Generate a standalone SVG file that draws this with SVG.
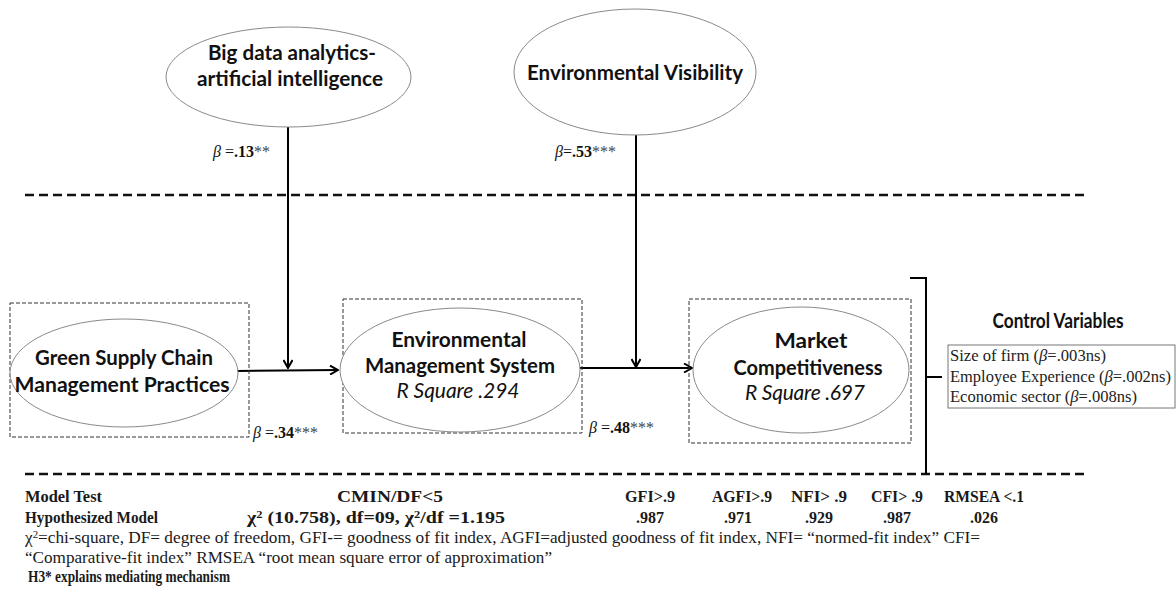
<svg xmlns="http://www.w3.org/2000/svg" width="1176" height="590" viewBox="0 0 1176 590">
<style>
.ell{fill:#fff;stroke:#8a8a8a;stroke-width:1}
.box{fill:none;stroke:#333;stroke-width:1;stroke-dasharray:4 2}
.sep{stroke:#111;stroke-width:2.5;stroke-dasharray:9 5;fill:none}
.conn{stroke:#000;stroke-width:2;fill:none}
.lbl{font-family:Lato,"Open Sans",sans-serif;font-weight:bold;font-size:21px;fill:#111;text-anchor:middle}
.rsq{font-family:Lato,"Open Sans",sans-serif;font-style:italic;font-size:21px;fill:#111;text-anchor:middle}
.beta{font-family:"Liberation Serif",serif;font-size:16px;fill:#111}
.tbl{font-family:"Liberation Serif",serif;font-size:16px;fill:#1a1a1a}
.ctl{font-family:"Liberation Serif",serif;font-size:16px;fill:#222}
.b{font-weight:bold}
.i{font-style:italic}
.st{fill:#444;font-weight:normal}
</style>
<defs>
<marker id="arr" viewBox="0 0 10 10" refX="9" refY="5" markerWidth="10" markerHeight="10" orient="auto" markerUnits="userSpaceOnUse">
<path d="M1,0.5 L9,5 L1,9.5" fill="none" stroke="#000" stroke-width="2"/>
</marker>
</defs>
<rect width="1176" height="590" fill="#fff"/>

<g id="separators">
<line class="sep" x1="25" y1="195" x2="1087" y2="195"/>
<line class="sep" x1="25" y1="474" x2="1087" y2="474"/>
</g>

<g id="connectors">
<line class="conn" x1="288" y1="127" x2="288" y2="368" marker-end="url(#arr)"/>
<line class="conn" x1="636" y1="135" x2="636" y2="367" marker-end="url(#arr)"/>
<line class="conn" x1="237" y1="371" x2="338" y2="370" marker-end="url(#arr)"/>
<line class="conn" x1="580" y1="368" x2="692" y2="368" marker-end="url(#arr)"/>
<path class="conn" d="M910,278 H926 V474 M926,377 H942"/>
</g>

<g id="node-bigdata">
<ellipse class="ell" cx="288.5" cy="77" rx="122.5" ry="50"/>
<text class="lbl" x="292" y="60" textLength="168" lengthAdjust="spacingAndGlyphs">Big data analytics-</text>
<text class="lbl" x="290" y="86" textLength="186" lengthAdjust="spacingAndGlyphs">artificial intelligence</text>
</g>

<g id="node-envvis">
<ellipse class="ell" cx="635" cy="72" rx="121" ry="63"/>
<text class="lbl" x="635" y="80" textLength="216" lengthAdjust="spacingAndGlyphs">Environmental Visibility</text>
</g>

<g id="node-gscm">
<rect class="box" x="10" y="303" width="239" height="134"/>
<ellipse class="ell" cx="124" cy="373" rx="114" ry="54"/>
<text class="lbl" x="124" y="365" textLength="178" lengthAdjust="spacingAndGlyphs">Green Supply Chain</text>
<text class="lbl" x="122" y="392" textLength="215" lengthAdjust="spacingAndGlyphs">Management Practices</text>
</g>

<g id="node-ems">
<rect class="box" x="343" y="299" width="239" height="134"/>
<ellipse class="ell" cx="460" cy="370" rx="120" ry="62"/>
<text class="lbl" x="459" y="347" textLength="135" lengthAdjust="spacingAndGlyphs">Environmental</text>
<text class="lbl" x="460" y="373" textLength="190" lengthAdjust="spacingAndGlyphs">Management System</text>
<text class="rsq" x="458" y="398" textLength="123">R Square .294</text>
</g>

<g id="node-mc">
<rect class="box" x="689" y="299" width="222" height="144"/>
<ellipse class="ell" cx="801" cy="370" rx="108" ry="63"/>
<text class="lbl" x="811" y="348" textLength="73" lengthAdjust="spacingAndGlyphs">Market</text>
<text class="lbl" x="808" y="375" textLength="149" lengthAdjust="spacingAndGlyphs">Competitiveness</text>
<text class="rsq" x="805" y="400" textLength="120">R Square .697</text>
</g>

<g id="node-controls">
<text class="lbl" x="1058" y="328" font-size="18" textLength="131" lengthAdjust="spacingAndGlyphs">Control Variables</text>
<rect x="948" y="345" width="227" height="63" fill="#fff" stroke="#777" stroke-width="1"/>
<text class="ctl" x="950" y="361" textLength="156" lengthAdjust="spacingAndGlyphs">Size of  firm (<tspan class="i">β</tspan>=.003ns)</text>
<text class="ctl" x="950" y="382" textLength="221" lengthAdjust="spacingAndGlyphs">Employee Experience (<tspan class="i">β</tspan>=.002ns)</text>
<text class="ctl" x="950" y="402" textLength="187" lengthAdjust="spacingAndGlyphs">Economic sector (<tspan class="i">β</tspan>=.008ns)</text>
</g>

<g id="beta-labels">
<text class="beta" x="213" y="157"><tspan class="i">β</tspan> =<tspan class="b">.13</tspan><tspan class="st">**</tspan></text>
<text class="beta" x="555" y="157"><tspan class="i">β</tspan>=<tspan class="b">.53</tspan><tspan class="st">***</tspan></text>
<text class="beta" x="253" y="438"><tspan class="i">β</tspan> =<tspan class="b">.34</tspan><tspan class="st">***</tspan></text>
<text class="beta" x="589" y="433"><tspan class="i">β</tspan> =<tspan class="b">.48</tspan><tspan class="st">***</tspan></text>
</g>

<g id="fit-table">
<text class="tbl b" x="25" y="502" textLength="77" lengthAdjust="spacingAndGlyphs">Model Test</text>
<text class="tbl b" x="337" y="502" textLength="106" lengthAdjust="spacingAndGlyphs">CMIN/DF&lt;5</text>
<text class="tbl b" x="625" y="502" textLength="50" lengthAdjust="spacingAndGlyphs">GFI&gt;.9</text>
<text class="tbl b" x="712" y="502" textLength="60" lengthAdjust="spacingAndGlyphs">AGFI&gt;.9</text>
<text class="tbl b" x="791" y="502" textLength="56" lengthAdjust="spacingAndGlyphs">NFI&gt; .9</text>
<text class="tbl b" x="871" y="502" textLength="52" lengthAdjust="spacingAndGlyphs">CFI&gt; .9</text>
<text class="tbl b" x="944" y="502" textLength="80" lengthAdjust="spacingAndGlyphs">RMSEA &lt;.1</text>
<text class="tbl b" x="25" y="523" textLength="133" lengthAdjust="spacingAndGlyphs">Hypothesized Model</text>
<text class="tbl b" x="247" y="523" textLength="258" lengthAdjust="spacingAndGlyphs">χ<tspan font-size="10" dy="-5">2</tspan><tspan dy="5"> (10.758), df=09, χ</tspan><tspan font-size="10" dy="-5">2</tspan><tspan dy="5">/df  =1.195</tspan></text>
<g text-anchor="middle">
<text class="tbl b" x="650" y="523">.987</text>
<text class="tbl b" x="738" y="523">.971</text>
<text class="tbl b" x="819" y="523">.929</text>
<text class="tbl b" x="897" y="523">.987</text>
<text class="tbl b" x="984" y="523">.026</text>
</g>
<text class="tbl" x="25" y="543" textLength="955" lengthAdjust="spacingAndGlyphs">χ<tspan font-size="10" dy="-5">2</tspan><tspan dy="5">=chi-square, DF= degree of  freedom, GFI-= goodness of  fit index, AGFI=adjusted goodness of  fit index, NFI= “normed-fit index” CFI=</tspan></text>
<text class="tbl" x="25" y="563" textLength="527" lengthAdjust="spacingAndGlyphs">“Comparative-fit index” RMSEA “root mean square error of  approximation”</text>
<text class="tbl b" x="28" y="582" textLength="202" lengthAdjust="spacingAndGlyphs">H3* explains mediating mechanism</text>
</g>
</svg>
